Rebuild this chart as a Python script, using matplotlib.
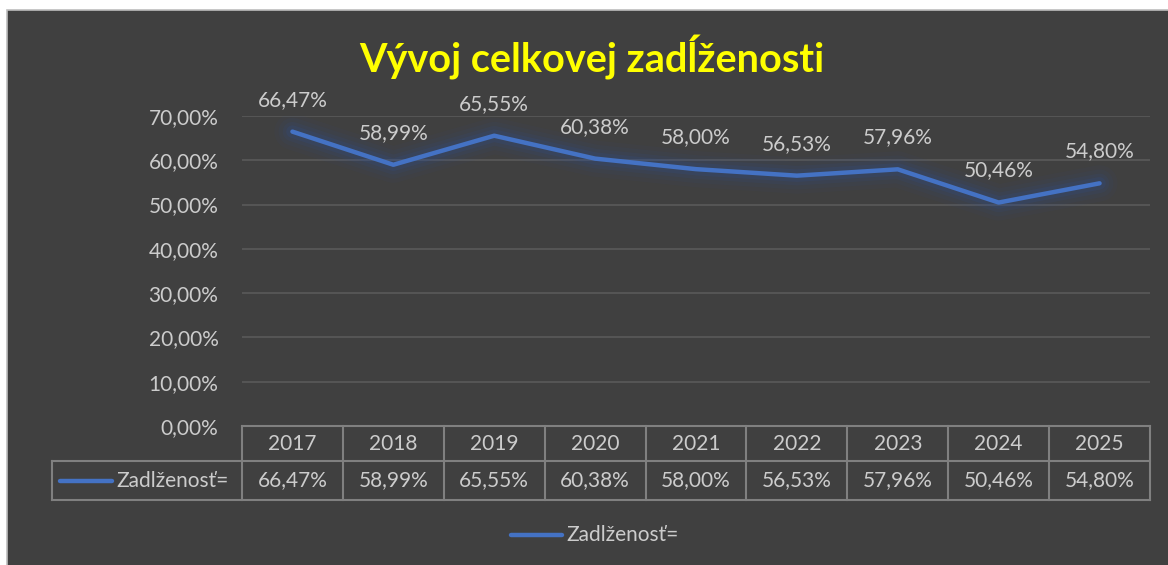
import matplotlib
matplotlib.use('Agg')
from matplotlib import pyplot as plt
from matplotlib.patches import Rectangle
from matplotlib.lines import Line2D
from matplotlib import transforms

years = ['2017', '2018', '2019', '2020', '2021', '2022', '2023', '2024', '2025']
values = [66.47, 58.99, 65.55, 60.38, 58.00, 56.53, 57.96, 50.46, 54.80]
series_name = 'Zadlženosť='
title = 'Vývoj celkovej zadĺženosti'
yticks = [0, 10, 20, 30, 40, 50, 60, 70]

plt.rcParams['font.family'] = ['Lato', 'DejaVu Sans']

W, H = 1168, 565
bg = '#404040'
txt = '#cccccc'
grid = '#5a5a5a'
tbl = '#808080'
blue = '#4472C4'
fs = 15


def pct(v):
    return '{:.2f}%'.format(v).replace('.', ',')


def fx(px):
    return px / W


def fy(py):
    return 1 - py / H


fig = plt.figure(figsize=(W / 100, H / 100), dpi=100)
fig.patch.set_facecolor('white')
fig.patches.append(Rectangle((fx(7), -0.01), 1.02 - fx(7), fy(10) + 0.01, transform=fig.transFigure,
                             facecolor=bg, edgecolor='#bdbdbd', linewidth=1.2, zorder=-10))

ax = fig.add_axes([fx(242), fy(426), fx(1150) - fx(242), fy(116) - fy(426)])
ax.set_facecolor('none')
ax.set_xlim(-0.5, len(years) - 0.5)
ax.set_ylim(0, 70)
for s in ax.spines.values():
    s.set_visible(False)
ax.set_xticks([])
ax.set_yticks(yticks)
ax.set_yticklabels([pct(t) for t in yticks], color=txt, fontsize=fs)
ax.tick_params(axis='y', length=0, pad=17)
for t in yticks[1:]:
    ax.axhline(t, color=grid, lw=1.2, zorder=1)

x = list(range(len(years)))
# glow
for lw, a in [(26, 0.06), (20, 0.08), (14, 0.12), (9, 0.18)]:
    ax.plot(x, values, color='#2f4f8f', lw=lw, alpha=a, solid_capstyle='round',
            solid_joinstyle='round', zorder=2)
ax.plot(x, values, color=blue, lw=3.2, solid_capstyle='round', solid_joinstyle='round', zorder=3)

for xi, v in zip(x, values):
    ax.annotate(pct(v), (xi, v), xytext=(0, 23), textcoords='offset points',
                ha='center', va='center', color=txt, fontsize=fs, zorder=4)

# data table below the axis
tr = transforms.blended_transform_factory(ax.transData, ax.transAxes)
h = 426 - 116
y0 = 0
y1 = -(461 - 426) / h
y2 = -(500 - 426) / h
xl = -0.5 - (242 - 52) / (908 / len(years))
n = len(years)
kw = dict(color=tbl, lw=1.5, transform=tr, clip_on=False)
ax.plot([-0.5, n - 0.5], [y0, y0], **kw)
ax.plot([xl, n - 0.5], [y1, y1], **kw)
ax.plot([xl, n - 0.5], [y2, y2], **kw)
ax.plot([xl, xl], [y1, y2], **kw)
for i in range(n + 1):
    ax.plot([i - 0.5, i - 0.5], [y0, y2], **kw)
for i, (yr, v) in enumerate(zip(years, values)):
    ax.text(i, (y0 + y1) / 2, yr, ha='center', va='center', color=txt, fontsize=fs,
            transform=tr)
    ax.text(i, (y1 + y2) / 2, pct(v), ha='center', va='center', color=txt, fontsize=fs,
            transform=tr)

# series key in table
fig.add_artist(Line2D([fx(60), fx(112)], [fy(481), fy(481)], color=blue, lw=3.2,
                      solid_capstyle='round'))
fig.text(fx(116), fy(481), series_name, ha='left', va='center', color=txt, fontsize=fs)

# legend at bottom
fig.add_artist(Line2D([fx(511), fx(562)], [fy(535), fy(535)], color=blue, lw=3.2,
                      solid_capstyle='round'))
fig.text(fx(566), fy(535), series_name, ha='left', va='center', color=txt, fontsize=fs)

fig.text(fx(592), fy(57), title, ha='center', va='center', color='#ffff00',
         fontsize=28.5, fontweight='bold')

fig.savefig('out.png', dpi=100, facecolor=fig.get_facecolor())
